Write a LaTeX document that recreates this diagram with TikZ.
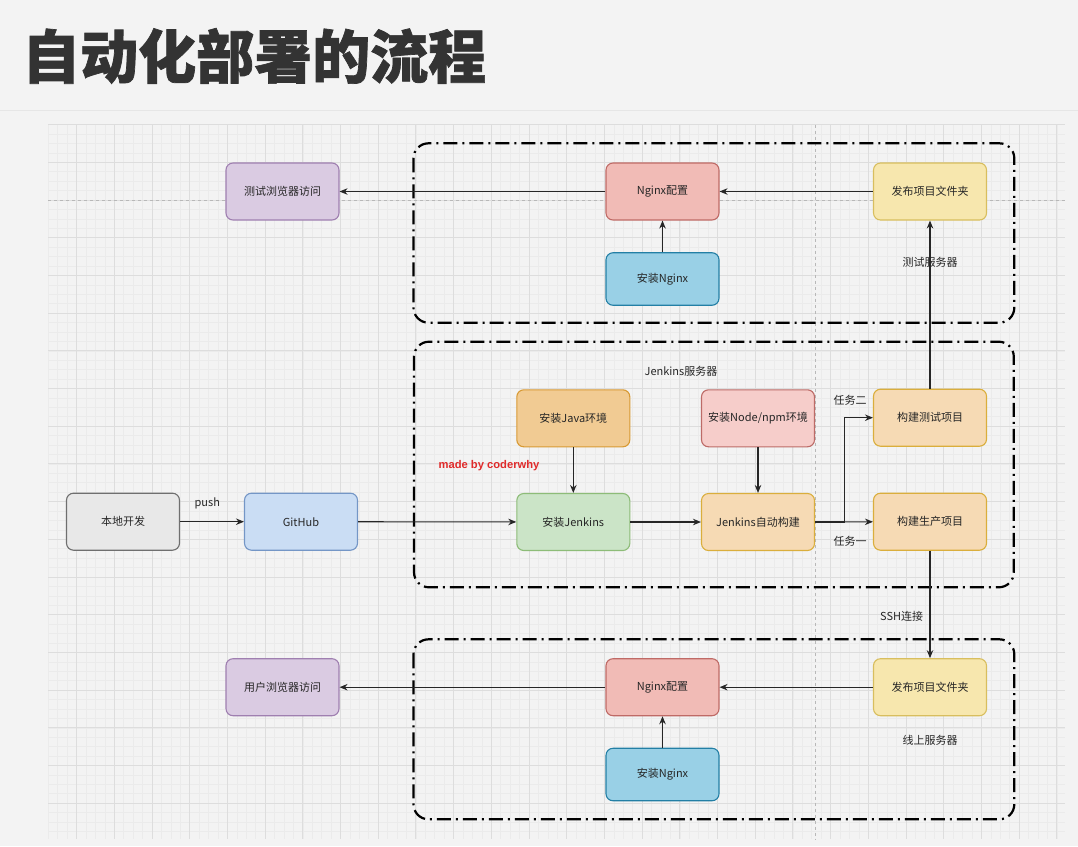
\documentclass[tikz,border=0pt]{standalone}
\usepackage{fontspec}
\setmainfont{Noto Sans CJK SC}
\newfontfamily\titlefont[BoldFeatures={FakeBold=1.2}]{Noto Sans CJK SC}
\newfontfamily\latinbold{Liberation Sans}
\usetikzlibrary{arrows.meta}
\definecolor{bgc}{HTML}{F3F3F3}
\definecolor{sepc}{HTML}{E6E6E6}
\definecolor{minorc}{HTML}{EBEBEB}
\definecolor{majorc}{HTML}{DDDDDD}
\definecolor{guidec}{HTML}{B8B8B8}
\definecolor{titlec}{HTML}{333333}
\definecolor{txtc}{HTML}{262626}
\definecolor{purF}{HTML}{DACBE2}\definecolor{purS}{HTML}{9F7FB0}
\definecolor{redF}{HTML}{F1BBB6}\definecolor{redS}{HTML}{BF6A66}
\definecolor{pinkF}{HTML}{F6CDCA}\definecolor{pinkS}{HTML}{BD6B67}
\definecolor{bluF}{HTML}{99D0E6}\definecolor{bluS}{HTML}{237FA5}
\definecolor{yelF}{HTML}{F7E7AE}\definecolor{yelS}{HTML}{D8BE5E}
\definecolor{oraF}{HTML}{F1CB93}\definecolor{oraS}{HTML}{D89A34}
\definecolor{grnF}{HTML}{CBE4C7}\definecolor{grnS}{HTML}{8DBC78}
\definecolor{pchF}{HTML}{F6DAB4}\definecolor{pchS}{HTML}{DAAE3C}
\definecolor{gryF}{HTML}{E8E8E8}\definecolor{gryS}{HTML}{6F6F6F}
\definecolor{gitF}{HTML}{CADDF4}\definecolor{gitS}{HTML}{7496C6}
\definecolor{madec}{HTML}{E02A2A}
\begin{document}
\begin{tikzpicture}[x=1pt,y=-1pt,
  box/.style={draw, rounded corners=7pt, line width=1.1pt, minimum width=113pt,
    minimum height=57pt, inner sep=0pt, font=\fontsize{11}{13}\selectfont, text=txtc},
  arr/.style={-{Stealth[length=8pt,width=6.5pt]}, line width=1.1pt, draw=txtc},
  container/.style={draw=black, line width=2.2pt, rounded corners=15pt,
    dash pattern=on 14pt off 5pt on 2pt off 5pt},
  lbl/.style={font=\fontsize{11}{13}\selectfont, text=txtc, inner sep=1pt},
  minorline/.style={draw=minorc, line width=0.6pt},
  majorline/.style={draw=majorc, line width=0.9pt},
  guide/.style={draw=guidec, line width=0.6pt, dash pattern=on 3pt off 3pt}]
\useasboundingbox (0,0) rectangle (1078,846);
\fill[bgc] (0,0) rectangle (1078,846);
\draw[sepc, line width=1.5pt] (0,110.3) -- (1078,110.3);
% grid
\foreach \k in {-3,...,104}{\pgfmathsetmacro\xx{76.6+9.425*\k}
  \draw[minorline] (\xx,124.5) -- (\xx,839);}
\foreach \k in {-4,...,71}{\pgfmathsetmacro\yy{162.3+9.425*\k}
  \draw[minorline] (48,\yy) -- (1065,\yy);}
\foreach \k in {0,4,...,104}{\pgfmathsetmacro\xx{76.6+9.425*\k}
  \draw[majorline] (\xx,124.5) -- (\xx,839);}
\foreach \k in {-4,0,...,68}{\pgfmathsetmacro\yy{162.3+9.425*\k}
  \draw[majorline] (48,\yy) -- (1065,\yy);}
\draw[guide] (48,200.3) -- (1065,200.3);
\draw[guide] (815,124.5) -- (815,839);
% title
\node[anchor=west, inner sep=0pt, font=\titlefont\bfseries\fontsize{58}{60}\selectfont, text=titlec] (title) at (22,56) {自动化部署的流程};
% containers
\draw[container] (413.5,143.3) rectangle (1014.3,322.7);
\draw[container] (414,341.7) rectangle (1013.8,587.3);
\draw[container] (413.5,639.3) rectangle (1014.3,819.3);
% nodes
\node[box, fill=gryF, draw=gryS] (local) at (123,521.7) {本地开发};
\node[box, fill=gitF, draw=gitS] (github) at (301,521.7) {GitHub};
\node[box, fill=oraF, draw=oraS] (java) at (573.3,418.3) {安装Java环境};
\node[box, fill=grnF, draw=grnS] (jenkins) at (573.3,522) {安装Jenkins};
\node[box, fill=pinkF, draw=pinkS] (node) at (758,418.3) {安装Node/npm环境};
\node[box, fill=pchF, draw=pchS] (auto) at (758,522) {Jenkins自动构建};
\node[box, fill=pchF, draw=pchS] (btest) at (930,417.7) {构建测试项目};
\node[box, fill=pchF, draw=pchS] (bprod) at (930,521.7) {构建生产项目};
\node[box, fill=purF, draw=purS] (tbrowser) at (282.5,191.5) {测试浏览器访问};
\node[box, fill=redF, draw=redS] (tnginxc) at (662.5,191.5) {Nginx配置};
\node[box, fill=bluF, draw=bluS, minimum height=52.5pt] (tnginxi) at (662.5,279) {安装Nginx};
\node[box, fill=yelF, draw=yelS] (tpub) at (930,191.5) {发布项目文件夹};
\node[box, fill=purF, draw=purS] (ubrowser) at (282.5,687.2) {用户浏览器访问};
\node[box, fill=redF, draw=redS] (unginxc) at (662.5,687.2) {Nginx配置};
\node[box, fill=bluF, draw=bluS, minimum height=52.5pt] (unginxi) at (662.5,774.5) {安装Nginx};
\node[box, fill=yelF, draw=yelS] (upub) at (930,687.2) {发布项目文件夹};
% labels
\node[lbl] (lpush) at (207.3,503.3) {push};
\node[lbl] (ljs) at (681,371) {Jenkins服务器};
\node[lbl] (lt2) at (850,400.7) {任务二};
\node[lbl] (lt1) at (850,541.7) {任务一};
\node[lbl] (lts) at (930,262.7) {测试服务器};
\node[lbl] (lus) at (930,740) {线上服务器};
\node[lbl] (lssh) at (901.7,616) {SSH连接};
\node[inner sep=0pt, text=madec, font=\latinbold\bfseries\fontsize{11.2}{13}\selectfont] (made) at (489,466) {made by coderwhy};
% connectors
\coordinate (split) at (844.3,522);
\draw[arr] (local) -- (github);
\draw[arr] (github) -- (jenkins);
\draw[arr] (java) -- (jenkins);
\draw[arr] (jenkins) -- (auto);
\draw[arr] (node) -- (auto);
\draw[arr] (auto) -- (bprod);
\draw[arr] (auto.east) -- (split) |- (btest.west);
\draw[arr] (btest) -- (tpub);
\draw[arr] (bprod) -- (upub);
\draw[arr] (tpub) -- (tnginxc);
\draw[arr] (tnginxi) -- (tnginxc);
\draw[arr] (tnginxc) -- (tbrowser);
\draw[arr] (upub) -- (unginxc);
\draw[arr] (unginxi) -- (unginxc);
\draw[arr] (unginxc) -- (ubrowser);
\end{tikzpicture}
\end{document}
